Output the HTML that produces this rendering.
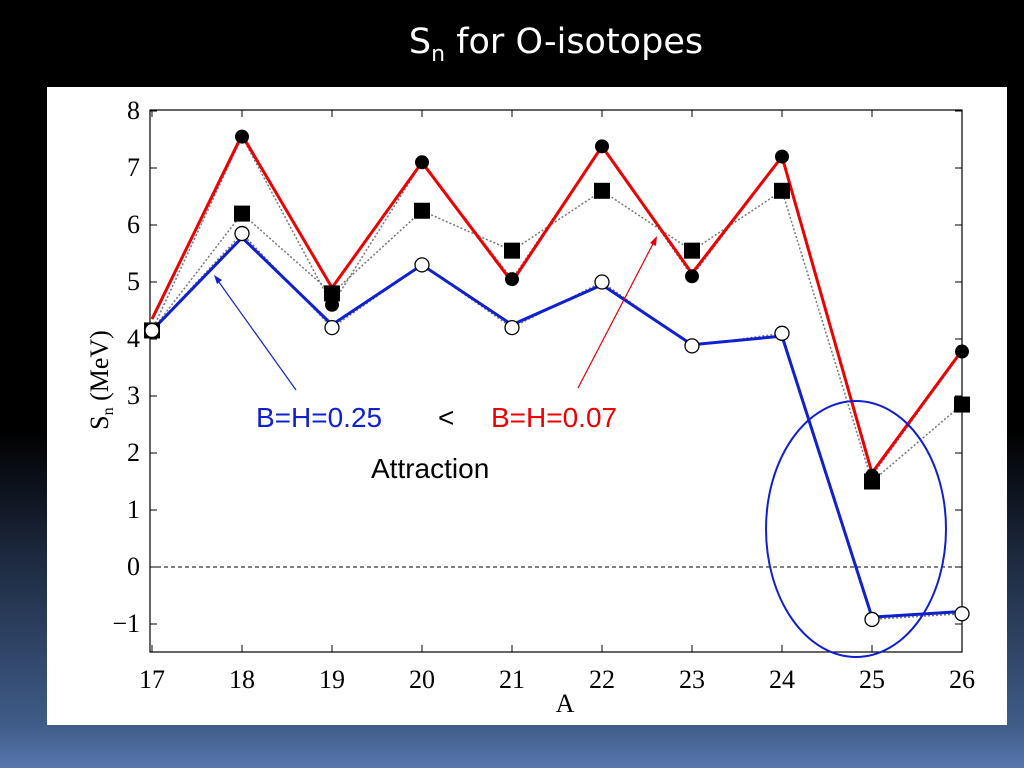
<!DOCTYPE html>
<html><head><meta charset="utf-8"><style>
body{margin:0;width:1024px;height:768px;overflow:hidden;background:linear-gradient(#000 0px,#000 430px,#1d2a40 560px,#3f5c88 725px,#5876ac 768px);font-family:"Liberation Sans",sans-serif}
</style></head><body>
<div style="position:absolute;left:356px;width:400px;top:22px;text-align:center;color:#fff;font-size:35px;font-family:'DejaVu Sans',sans-serif">S<sub style="font-size:22px">n</sub> for O-isotopes</div>
<svg style="position:absolute;left:0;top:0" width="1024" height="768">
<rect x="47" y="87" width="960" height="638" fill="#fff"/>
<g id="g"></g>
</svg>
<script>
const masses=[17,18,19,20,21,22,23,24,25,26];
const filledCircles=[4.15,7.55,4.6,7.1,5.05,7.38,5.1,7.2,1.6,3.78];
const squares=[4.15,6.2,4.8,6.25,5.55,6.6,5.55,6.6,1.5,2.85];
const openCircles=[4.15,5.85,4.2,5.3,4.2,5.0,3.88,4.1,-0.92,-0.82];
const redLine=[4.35,7.58,4.9,7.1,5.0,7.38,5.15,7.2,1.65,3.8];
const blueLine=[4.15,5.78,4.25,5.3,4.25,4.95,3.9,4.05,-0.88,-0.78];
const yTicks=[-1,0,1,2,3,4,5,6,7,8];
const X=a=>152+(a-17)*90, Y=v=>567-v*57;
const g=document.getElementById('g');const NS='http://www.w3.org/2000/svg';
function mk(t,at,name,txt){const e=document.createElementNS(NS,t);for(const k in at)e.setAttribute(k,at[k]);


if(txt!==undefined)e.textContent=txt;g.appendChild(e);return e;}
mk('rect',{x:150,y:110,width:812,height:542,fill:'none',stroke:'#000','stroke-width':1.2},'plot-frame');
const ff='Liberation Serif, serif';
masses.forEach(a=>{mk('line',{x1:X(a),x2:X(a),y1:652,y2:645,stroke:'#000'},'x-tick');mk('line',{x1:X(a),x2:X(a),y1:110,y2:117,stroke:'#000'},'x-tick-top');
mk('text',{x:X(a),y:688,'text-anchor':'middle','font-size':26,'font-family':ff},'x-tick-label',a);});
yTicks.forEach(v=>{mk('line',{x1:150,x2:157,y1:Y(v),y2:Y(v),stroke:'#000'},'y-tick');mk('line',{x1:962,x2:955,y1:Y(v),y2:Y(v),stroke:'#000'},'y-tick-right');
mk('text',{x:140,y:Y(v)+8,'text-anchor':'end','font-size':26,'font-family':ff},'y-tick-label',v<0?'−'+(-v):v);});
mk('text',{x:565,y:712,'text-anchor':'middle','font-size':26,'font-family':ff},'x-axis-title','A');
const yt=mk('text',{x:108,y:380,'text-anchor':'middle','font-size':26,'font-family':ff,transform:'rotate(-90 108 380)'},'y-axis-title','');
yt.innerHTML='S<tspan font-size="16" dy="5">n</tspan><tspan dy="-5"> (MeV)</tspan>';
mk('line',{x1:150,x2:962,y1:Y(0),y2:Y(0),stroke:'#000','stroke-dasharray':'4,3'},'zero-line');
const pts=arr=>arr.map((v,i)=>X(masses[i])+','+Y(v)).join(' ');
[filledCircles,squares,openCircles].forEach(s=>mk('polyline',{points:pts(s),fill:'none',stroke:'#777','stroke-width':1.5,'stroke-dasharray':'2,2'},'dotted-series-line'));
mk('polyline',{points:pts(redLine),fill:'none',stroke:'#e00','stroke-width':3},'red-line-bh007');
mk('polyline',{points:pts(blueLine),fill:'none',stroke:'#1020d0','stroke-width':3},'blue-line-bh025');
filledCircles.forEach((v,i)=>mk('circle',{cx:X(masses[i]),cy:Y(v),r:7,fill:'#000'},'filled-circle-point'));
squares.forEach((v,i)=>mk('rect',{x:X(masses[i])-8,y:Y(v)-8,width:16,height:16,fill:'#000'},'square-point'));
openCircles.forEach((v,i)=>mk('circle',{cx:X(masses[i]),cy:Y(v),r:7,fill:'#fff',stroke:'#000','stroke-width':1.3},'open-circle-point'));
mk('line',{x1:296,y1:390,x2:216,y2:278,stroke:'#1020d0','stroke-width':1.2},'blue-arrow');
mk('polygon',{points:'214,275 222,280 217,284',fill:'#1020d0'},'blue-arrowhead');
mk('line',{x1:578,y1:388,x2:655,y2:240,stroke:'#e00','stroke-width':1.2},'red-arrow');
mk('polygon',{points:'657,236 656,246 650,243',fill:'#e00'},'red-arrowhead');
mk('text',{x:256,y:427,'font-size':28,fill:'#1020d0','font-family':'Liberation Sans, sans-serif'},'label-bh025','B=H=0.25');
mk('text',{x:438,y:427,'font-size':28,'font-family':'Liberation Sans, sans-serif'},'less-than','<');
mk('text',{x:491,y:427,'font-size':28,fill:'#e00','font-family':'Liberation Sans, sans-serif'},'label-bh007','B=H=0.07');
mk('text',{x:371,y:478,'font-size':28,'font-family':'Liberation Sans, sans-serif'},'label-attraction','Attraction');
mk('ellipse',{cx:856,cy:529,rx:90,ry:128,fill:'none',stroke:'#1020d0','stroke-width':2},'highlight-ellipse');
</script>
</body></html>
